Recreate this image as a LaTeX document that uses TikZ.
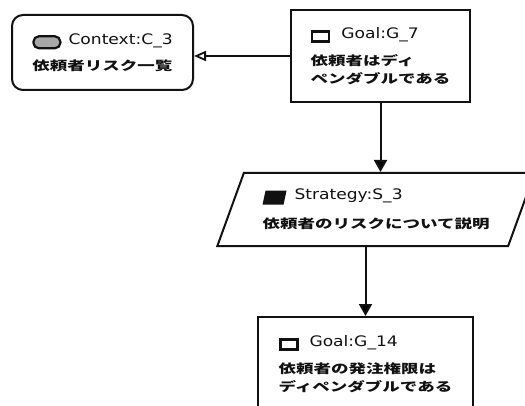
\documentclass[tikz,border=0pt]{standalone}
\usepackage{fontspec}
\setmainfont{Noto Sans CJK JP}[FakeStretch=1.4]
\newfontfamily\lblfont[FakeStretch=1.18]{DejaVu Sans}
\usepackage{tikz}
\usetikzlibrary{arrows.meta, shapes.geometric, positioning}
\definecolor{gsnink}{HTML}{111111}
\definecolor{ctxgray}{HTML}{A8A8A8}
\newcommand{\goalicon}{\tikz[baseline=-1pt]\draw[line width=2.8pt] (0pt,-4pt) rectangle (17pt,6pt);}
\newcommand{\ctxicon}{\tikz[baseline=-1pt]\draw[line width=2.2pt, fill=ctxgray, rounded corners=5.5pt] (0pt,-5pt) rectangle (27pt,7pt);}
\newcommand{\strticon}{\tikz[baseline=-1pt]\fill[gsnink] (3pt,-6pt) -- (24pt,-6pt) -- (27pt,8pt) -- (6pt,8pt) -- cycle;}
\tikzset{
  gsnbase/.style={draw=gsnink, text=gsnink, line width=2pt, align=left, inner sep=0pt,
    font=\fontsize{12.5}{18}\selectfont},
  goalbox/.style={gsnbase, rectangle},
  ctxbox/.style={gsnbase, rectangle, rounded corners=11pt},
  strtbox/.style={gsnbase, trapezium, trapezium left angle=61, trapezium right angle=119,
    trapezium stretches=true},
  solved/.style={-{Triangle[length=12pt, width=13pt]}, draw=gsnink, line width=2pt},
  incontext/.style={-{Triangle[open, length=12pt, width=10pt]}, draw=gsnink, line width=1.8pt}
}
\newcommand{\gsnlabel}[1]{{\lblfont\fontsize{14.5}{18}\selectfont #1}}

\begin{document}
\begin{tikzpicture}[x=1pt, y=1pt]
\useasboundingbox (0,0) rectangle (525,405);
\clip (0,0) rectangle (525,405);
\node[goalbox, minimum width=179pt, minimum height=92pt] (g7) at (380.5,349)
  {\goalicon\hspace{11pt}\gsnlabel{Goal:G\_7}\\[9pt]\bfseries 依頼者はディ\\\bfseries ペンダブルである};
\node[ctxbox, minimum width=181pt, minimum height=75pt] (c3) at (102.5,352.5)
  {\ctxicon\hspace{7pt}\gsnlabel{Context:C\_3}\\[8pt]\bfseries 依頼者リスク一覧};
\node[strtbox, minimum width=318pt, minimum height=73pt] (s3) at (376,195.5)
  {\strticon\hspace{8pt}\gsnlabel{Strategy:S\_3}\\[11pt]\bfseries 依頼者のリスクについて説明};
\node[goalbox, minimum width=215pt, minimum height=94pt] (g14) at (365.5,41)
  {\goalicon\hspace{11pt}\gsnlabel{Goal:G\_14}\\[9pt]\bfseries 依頼者の発注権限は\\\bfseries ディペンダブルである};
\draw[incontext] (g7.west) -- (g7.west -| c3.east);
\draw[solved] (g7.south) -- (g7.south |- s3.north);
\draw[solved] (g14.north |- s3.south) -- (g14.north);
\end{tikzpicture}
\end{document}
